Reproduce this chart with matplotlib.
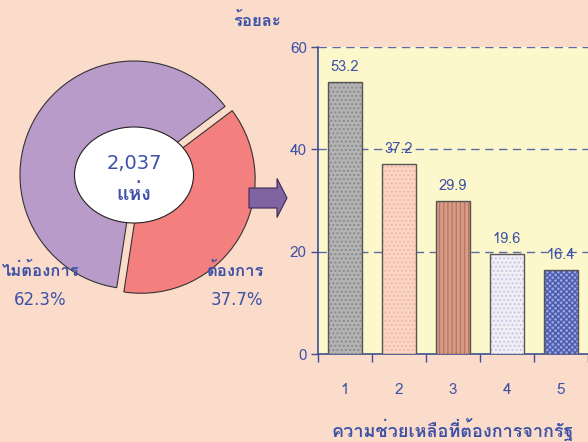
import matplotlib
matplotlib.use("Agg")
import matplotlib.pyplot as plt
from matplotlib import font_manager
from matplotlib.ft2font import FT2Font
from matplotlib.patches import Ellipse, FancyArrow

# ---------------- data ----------------
pie_labels = ["ไม่ต้องการ", "ต้องการ"]
pie_values = [62.3, 37.7]
pie_pct_text = ["62.3%", "37.7%"]
total_text = "2,037"
total_unit = "แห่ง"

bar_categories = ["1", "2", "3", "4", "5"]
bar_values = [53.2, 37.2, 29.9, 19.6, 16.4]
y_ticks = [0, 20, 40, 60]
y_label = "ร้อยละ"
x_label = "ความช่วยเหลือที่ต้องการจากรัฐ"

# ---------------- fonts ----------------
thai_family = None
for f in font_manager.fontManager.ttflist:
    try:
        if 0x0E01 in FT2Font(f.fname).get_charmap():
            thai_family = f.name
            break
    except Exception:
        pass
plt.rcParams["font.family"] = ["DejaVu Sans"] if not thai_family else [thai_family, "DejaVu Sans"]

BG = "#FBDCCB"
TXT = "#3D52A6"

fig = plt.figure(figsize=(5.88, 4.42), dpi=100, facecolor=BG)

# ---------------- donut ----------------
W, H = 588, 442
r_px = 128
cx, cy = 134, 175
axp = fig.add_axes([(cx - r_px) / W, 1 - (cy + r_px) / H, 2 * r_px / W, 2 * r_px / H])
axp.set_facecolor("none")
wedges, _ = axp.pie(pie_values, startangle=37, counterclock=True,
                    colors=["#B89BC9", "#F47F7F"], explode=[0, 0.065],
                    radius=114 / r_px,
                    wedgeprops=dict(edgecolor="#333333", linewidth=0.8))
axp.set_xlim(-1, 1)
axp.set_ylim(-1, 1)
axp.add_patch(Ellipse((0, 0), 119 / r_px, 96 / r_px, facecolor="white",
                      edgecolor="#222222", linewidth=0.8, zorder=5))
axp.text(0, 0.09, total_text, ha="center", va="center", fontsize=14, color=TXT, zorder=6,
         family="DejaVu Sans")
axp.text(0, -0.15, total_unit, ha="center", va="center", fontsize=14, color=TXT, zorder=6,
         fontweight="bold")
axp.set_aspect("equal")

fig.text(41 / W, 1 - 271 / H, pie_labels[0], ha="center", va="center", fontsize=12, color=TXT,
         fontweight="bold")
fig.text(40 / W, 1 - 300 / H, pie_pct_text[0], ha="center", va="center", fontsize=12, color=TXT,
         family="DejaVu Sans")
fig.text(236 / W, 1 - 271 / H, pie_labels[1], ha="center", va="center", fontsize=12, color=TXT,
         fontweight="bold")
fig.text(237 / W, 1 - 300 / H, pie_pct_text[1], ha="center", va="center", fontsize=12, color=TXT,
         family="DejaVu Sans")

# arrow
axa = fig.add_axes([0, 0, 1, 1], facecolor="none")
axa.set_xlim(0, W)
axa.set_ylim(H, 0)
axa.axis("off")
axa.add_patch(FancyArrow(249, 198, 38, 0, width=20, head_width=39, head_length=10,
                         length_includes_head=True, facecolor="#8064A2",
                         edgecolor="#3A2A55", linewidth=0.8))

# ---------------- bars ----------------
ax = fig.add_axes([318 / W, 1 - 354 / H, (W - 318) / W, (354 - 47) / H])
ax.set_facecolor("#FDF8CC")
xs = list(range(1, len(bar_values) + 1))
face = ["#B4B4B4", "#FBD6C6", "#D69C88", "#F1EEF6", "#9AA3DA"]
hatch = ["....", "....", "||||", "....", "xxxxxx"]
hcol = ["#8A8A8A", "#F2B8A4", "#B87662", "#C8C8E6", "#4A5AB0"]
for x, v, fc, h, hc in zip(xs, bar_values, face, hatch, hcol):
    ax.bar(x, v, width=0.63, facecolor=fc, edgecolor=hc, hatch=h, linewidth=0, zorder=3)
    ax.bar(x, v, width=0.63, facecolor="none", edgecolor="#555555", linewidth=1.0, zorder=4)
    ax.text(x, v + 1.5, f"{v:.1f}", ha="center", va="bottom", fontsize=10.5, color=TXT, zorder=5)

ax.set_xlim(0.5, 5.49)
ax.set_ylim(0, 60)
ax.set_yticks(y_ticks)
for yv in y_ticks[1:]:
    ax.axhline(yv, color="#5A6AA8", linestyle=(0, (6, 4)), linewidth=1.0, zorder=1)
ax.set_xticks(xs)
ax.set_xticklabels(bar_categories)
ax.set_xticks([x + 0.5 for x in [0] + xs], minor=True)
ax.tick_params(axis="x", which="major", length=0, pad=21, labelsize=11, labelcolor=TXT)
ax.tick_params(axis="x", which="minor", length=6, width=1, color="#3D4F8F", direction="out")
ax.tick_params(axis="y", length=5, width=1, color="#3D4F8F", labelsize=11, labelcolor=TXT, pad=3)
for s in ["top", "right"]:
    ax.spines[s].set_visible(False)
for s in ["left", "bottom"]:
    ax.spines[s].set_color("#3D4F8F")
    ax.spines[s].set_linewidth(1.2)
ax.set_xlabel(x_label, fontsize=13, color=TXT, labelpad=15, fontweight="bold")

fig.text(257 / W, 1 - 20 / H, y_label, ha="center", va="center", fontsize=12, color=TXT,
         fontweight="bold")

fig.savefig("out.png", dpi=100, facecolor=BG)
